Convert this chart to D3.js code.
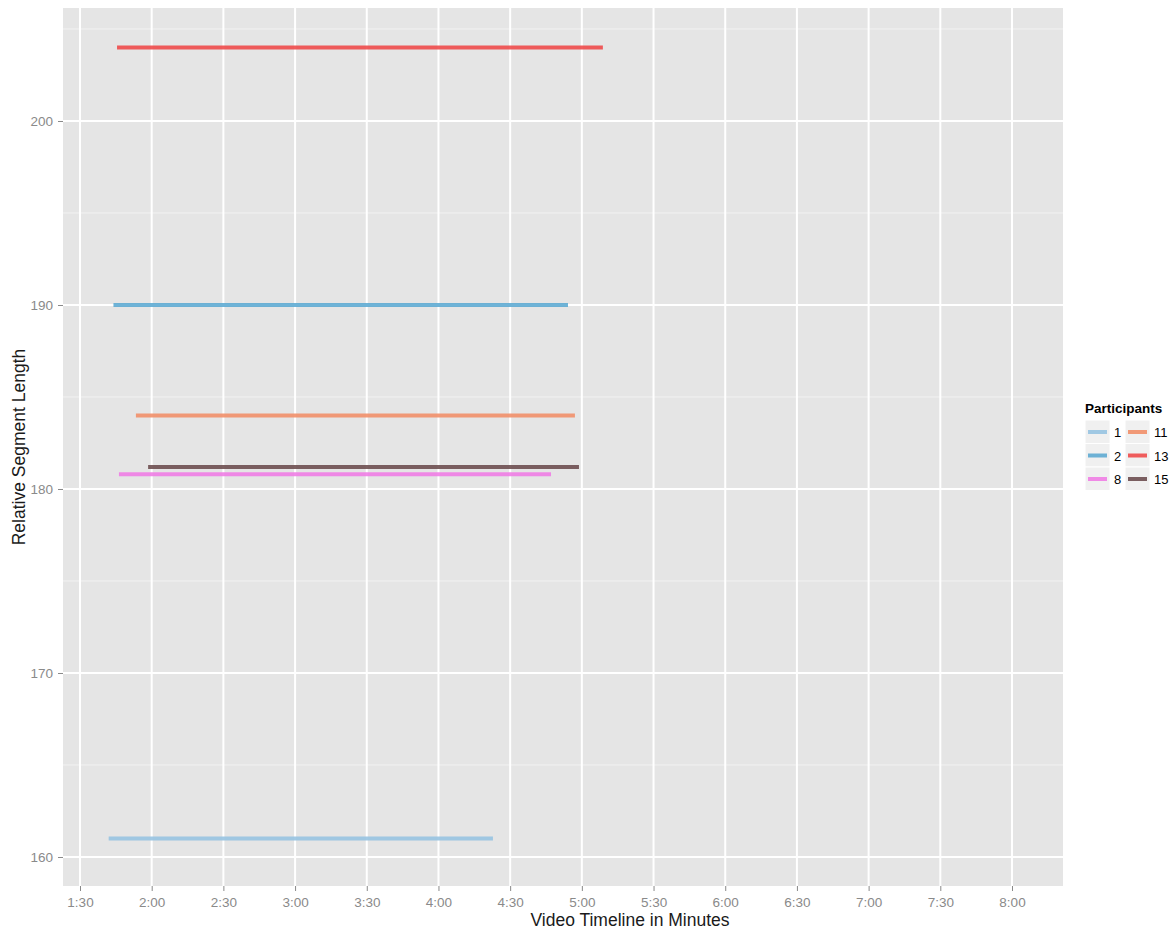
<!DOCTYPE html>
<html><head><meta charset="utf-8">
<script src="https://cdn.jsdelivr.net/npm/d3@7"></script>
<style>body{margin:0;background:#fff;font-family:"Liberation Sans",Arial,sans-serif;}</style>
</head><body><svg id="c" width="1171" height="932"></svg>
<script>
const participants = ["1","2","8","11","13","15"];
const segLength   = [161, 190, 180.8, 184, 204, 181.2];
const startSec    = [102, 104, 106.3, 113.4, 105.5, 118.5];
const endSec      = [262.8, 294.2, 287.1, 297.1, 308.8, 298.8];
const colors      = ["#98c4e2","#5fabd3","#f07fe6","#f2906a","#ef4c4c","#6e4f51"];
const xTicks = [90,120,150,180,210,240,270,300,330,360,390,420,450,480];
const yTicks = [160,170,180,190,200];

const svg = d3.select("#c");
const L=63, R=1063, T=8, B=886;
const x = d3.scaleLinear().domain([90,480]).range([80,1012]);
const y = d3.scaleLinear().domain([160,200]).range([857,121]);
const ymin = y.invert(B), ymax = y.invert(T);

svg.append("rect").attr("x",L).attr("y",T).attr("width",R-L).attr("height",B-T).attr("fill","#e5e5e5");
const g = svg.append("g");
const yMinor = d3.range(155,210,10).filter(v=>v>ymin&&v<ymax);
g.selectAll(".ym").data(yMinor).join("line").attr("x1",L).attr("x2",R)
 .attr("y1",d=>y(d)).attr("y2",d=>y(d)).attr("stroke","#f2f2f2").attr("stroke-width",1);
g.selectAll(".yM").data(yTicks).join("line").attr("x1",L).attr("x2",R)
 .attr("y1",d=>y(d)).attr("y2",d=>y(d)).attr("stroke","#fff").attr("stroke-width",2);
g.selectAll(".xM").data(xTicks).join("line").attr("y1",T).attr("y2",B)
 .attr("x1",d=>x(d)).attr("x2",d=>x(d)).attr("stroke","#fff").attr("stroke-width",2);

const data = participants.map((p,i)=>({p,len:segLength[i],s:startSec[i],e:endSec[i],c:colors[i]}));
svg.selectAll(".seg").data(data).join("line")
 .attr("x1",d=>x(d.s)).attr("x2",d=>x(d.e)).attr("y1",d=>y(d.len)).attr("y2",d=>y(d.len))
 .attr("stroke",d=>d.c).attr("stroke-width",4).attr("opacity",0.9);

const fmt = s => Math.floor(s/60)+":"+String(s%60).padStart(2,"0");
const xa = svg.append("g").attr("transform",`translate(0,${B})`)
 .call(d3.axisBottom(x).tickValues(xTicks).tickFormat(fmt).tickSize(5).tickPadding(6));
const ya = svg.append("g").attr("transform",`translate(${L},0)`)
 .call(d3.axisLeft(y).tickValues(yTicks).tickSize(5).tickPadding(5));
[xa,ya].forEach(a=>{a.select(".domain").remove();
 a.selectAll(".tick line").attr("stroke","#8a8a8a");
 a.selectAll("text").attr("fill","#8a8a8a").style("font-size","13.5px").style("font-family","Liberation Sans, Arial, sans-serif");});

svg.append("text").attr("x",630).attr("y",926).attr("text-anchor","middle").attr("fill","#1a1a1a")
 .style("font-size","17.5px").text("Video Timeline in Minutes");
svg.append("text").attr("transform",`translate(25,${(T+B)/2}) rotate(-90)`).attr("text-anchor","middle").attr("fill","#1a1a1a")
 .style("font-size","17.5px").text("Relative Segment Length");

const lg = svg.append("g");
lg.append("text").attr("x",1085).attr("y",413).style("font-size","13.5px").style("font-weight","bold").text("Participants");
data.forEach((d,i)=>{
  const col = Math.floor(i/3), row = i%3;
  const kx = 1085 + col*40, ky = 420 + row*23.5;
  lg.append("rect").attr("x",kx).attr("y",ky).attr("width",25).attr("height",23.5).attr("fill","#f0f0f0").attr("stroke","#fff");
  lg.append("line").attr("x1",kx+3).attr("x2",kx+22).attr("y1",ky+12).attr("y2",ky+12).attr("stroke",d.c).attr("stroke-width",4).attr("opacity",0.9);
  lg.append("text").attr("x",kx+29).attr("y",ky+17).style("font-size","13px").text(d.p);
});
</script></body></html>
